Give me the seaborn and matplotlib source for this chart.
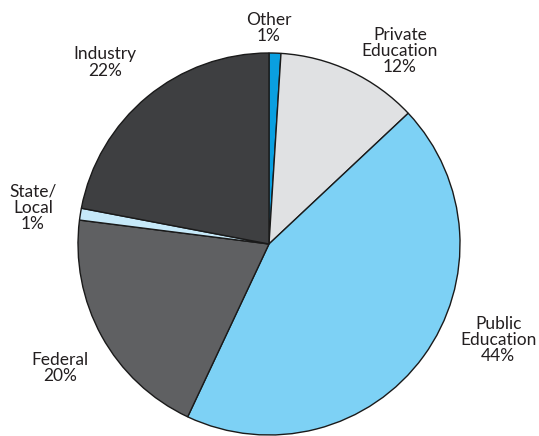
import numpy as np
import pandas as pd
import matplotlib
matplotlib.use('Agg')
import matplotlib.pyplot as plt
import seaborn as sns

# Shares of funding by source, clockwise from the top
sources = ['Other', 'Private\nEducation', 'Public\nEducation', 'Federal', 'State/\nLocal', 'Industry']
shares = [1, 12, 44, 20, 1, 22]
colors = ['#0a9fe0', '#e0e1e3', '#7dd1f5', '#5f6062', '#c6e9f9', '#3e3f41']

sns.set_theme(style='white')
plt.rcParams['font.family'] = ['Lato', 'DejaVu Sans']

fig = plt.figure(figsize=(5.39, 4.36), dpi=100)
ax = fig.add_axes([78 / 539, 1 / 436, 382 / 539, 382 / 436])

ax.pie(shares, colors=colors, startangle=90, counterclock=False,
       wedgeprops=dict(edgecolor='#1a1a1a', linewidth=1.0))
ax.set_xlim(-1, 1)
ax.set_ylim(-1, 1)
ax.set_aspect('equal')
ax.axis('off')

# label positions around the pie (data coordinates)
label_pos = [(0.0, 1.13), (0.686, 1.01), (1.2, -0.503),
             (-1.094, -0.649), (-1.236, 0.188), (-0.859, 0.95)]
for name, val, (x, y) in zip(sources, shares, label_pos):
    ax.text(x, y, f'{name}\n{val}%', ha='center', va='center',
            fontsize=12.5, color='#231f20', linespacing=1.02, clip_on=False)

fig.savefig('out.png', dpi=100)
